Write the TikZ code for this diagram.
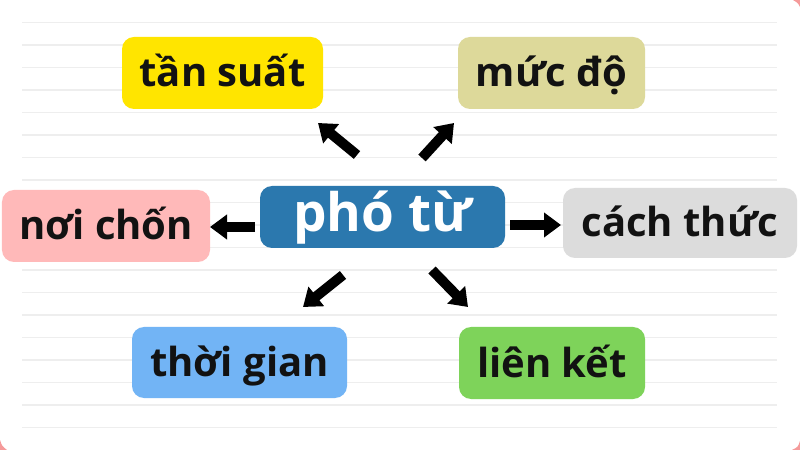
\documentclass[tikz,border=0pt]{standalone}
\usepackage{fontspec}
\setmainfont{Open Sans}
\usetikzlibrary{arrows.meta}
\definecolor{ruleline}{HTML}{EEEEEE}
\definecolor{cyellow}{HTML}{FFE500}
\definecolor{ckhaki}{HTML}{DDD99A}
\definecolor{cpink}{HTML}{FFB9B9}
\definecolor{cblue}{HTML}{2B78AE}
\definecolor{cgray}{HTML}{DCDCDC}
\definecolor{clblue}{HTML}{72B4F5}
\definecolor{cgreen}{HTML}{7ED35A}
\definecolor{cframe}{HTML}{F59A9A}
\tikzset{
  box/.style={rectangle, rounded corners=12bp, inner sep=0pt, text=black!93,
    font=\fontsize{40bp}{44bp}\selectfont\bfseries, text height=28bp, text depth=0bp},
  mainbox/.style={box, text=white, font=\fontsize{53bp}{58bp}\selectfont\bfseries,
    text height=30bp, text depth=0bp},
  arr/.style={line width=10bp, -{Triangle[length=17bp,width=24bp]}, black},
}
\begin{document}
\begin{tikzpicture}[x=1bp,y=-1bp]
\useasboundingbox (0,0) rectangle (800,450);
\fill[white] (0,0) rectangle (800,450);
% corner marks of the frame
\fill[cframe] (793,0) -- (800,0) -- (800,7) .. controls (798,3) .. (793,0);
\fill[cframe] (0,440) .. controls (2,446) .. (7,450) -- (0,450) -- cycle;
\fill[cframe] (800,441) .. controls (798,447) .. (792,450) -- (800,450) -- cycle;
% ruled lines
\foreach \k in {1,...,19}{
  \draw[ruleline, line width=1.5bp] (22,22.5*\k) -- (777,22.5*\k);
}
% nodes
\node[mainbox, fill=cblue, minimum width=245bp, minimum height=62bp] (c) at (382.5,217) {phó từ};
\node[box, fill=cyellow, minimum width=201bp, minimum height=72bp] (ts) at (222.5,73) {tần suất};
\node[box, fill=ckhaki, minimum width=187bp, minimum height=72bp] (md) at (551.5,73) {mức độ};
\node[box, fill=cpink, minimum width=208bp, minimum height=72bp] (nc) at (106,226) {nơi chốn};
\node[box, fill=cgray, minimum width=234bp, minimum height=70bp] (ct) at (680,223) {cách thức};
\node[box, fill=clblue, minimum width=215bp, minimum height=71bp] (tg) at (239.5,362.5) {thời gian};
\node[box, fill=cgreen, minimum width=186bp, minimum height=72bp] (lk) at (552,363) {liên kết};
% arrow end points
\coordinate (tsA) at (357,155); \coordinate (tsB) at (318,123);
\coordinate (mdA) at (422,158); \coordinate (mdB) at (454,123);
\coordinate (ncA) at (255,227); \coordinate (ncB) at (210,227);
\coordinate (ctA) at (510,225); \coordinate (ctB) at (561,225);
\coordinate (tgA) at (343,275); \coordinate (tgB) at (303,307);
\coordinate (lkA) at (432,270); \coordinate (lkB) at (468,307);
\draw[arr] (tsA) -- (tsB);
\draw[arr] (mdA) -- (mdB);
\draw[arr] (ncA) -- (ncB);
\draw[arr] (ctA) -- (ctB);
\draw[arr] (tgA) -- (tgB);
\draw[arr] (lkA) -- (lkB);
\end{tikzpicture}
\end{document}
